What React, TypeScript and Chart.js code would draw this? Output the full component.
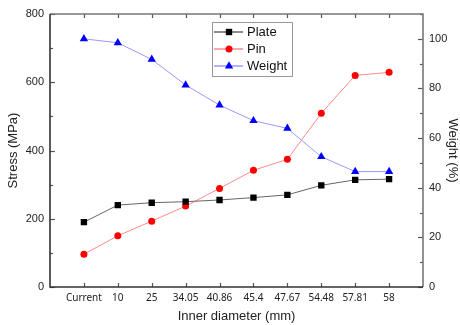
import React, { useEffect, useRef } from 'react';
import { Chart, registerables } from 'chart.js';

Chart.register(...registerables);

const categories = ['Current', '10', '25', '34.05', '40.86', '45.4', '47.67', '54.48', '57.81', '58'];
const plateStress = [190, 240, 247, 250, 255, 262, 270, 298, 314, 316];
const pinStress = [96, 150, 193, 237, 289, 342, 374, 509, 620, 629];
const weightPct = [100, 98.4, 91.7, 81.4, 73.3, 67, 63.9, 52.5, 46.5, 46.5];

const stressRange = [0, 800];
const stressStep = [200, 100];
const weightRange = [0, 110];
const weightStep = [20, 10];

const W = 460;
const H = 325;

const pad = (arr: (number | string)[], fill: any) => [fill, ...arr, fill];

function drawMarker(ctx: CanvasRenderingContext2D, style: string, x: number, y: number, r: number, color: string) {
  ctx.save();
  ctx.fillStyle = color;
  ctx.beginPath();
  if (style === 'rect') {
    const s = r / Math.SQRT2;
    ctx.rect(x - s, y - s, 2 * s, 2 * s);
  } else if (style === 'circle') {
    ctx.arc(x, y, r, 0, Math.PI * 2);
  } else {
    const a = Math.PI / 2;
    ctx.moveTo(x + Math.sin(0) * r, y - Math.cos(0) * r);
    ctx.lineTo(x + Math.sin(2 * Math.PI / 3) * r, y - Math.cos(2 * Math.PI / 3) * r);
    ctx.lineTo(x + Math.sin(4 * Math.PI / 3) * r, y - Math.cos(4 * Math.PI / 3) * r);
    void a;
  }
  ctx.closePath();
  ctx.fill();
  ctx.restore();
}

const framePlugin = {
  id: 'framePlugin',
  afterDatasetsDraw(chart: any) {
    const { ctx, chartArea } = chart;
    const { left, right, top, bottom } = chartArea;
    const yL = chart.scales.y;
    const yR = chart.scales.y1;
    const x = chart.scales.x;
    ctx.save();
    ctx.lineCap = 'butt';
    // ticks
    ctx.strokeStyle = '#555';
    ctx.lineWidth = 1.2;
    for (let v = stressRange[0]; v <= stressRange[1]; v += stressStep[1]) {
      const py = Math.round(yL.getPixelForValue(v)) + 0.5;
      const len = v % stressStep[0] === 0 ? 5 : 3;
      ctx.beginPath();
      ctx.moveTo(left, py);
      ctx.lineTo(left + len, py);
      ctx.stroke();
    }
    for (let v = weightRange[0]; v <= weightRange[1]; v += weightStep[1]) {
      const py = Math.round(yR.getPixelForValue(v)) + 0.5;
      const len = v % weightStep[0] === 0 ? 5 : 3;
      ctx.beginPath();
      ctx.moveTo(right, py);
      ctx.lineTo(right - len, py);
      ctx.stroke();
    }
    for (let i = 1; i <= categories.length; i++) {
      const px = Math.round(x.getPixelForValue(i)) + 0.5;
      ctx.beginPath();
      ctx.moveTo(px, bottom);
      ctx.lineTo(px, bottom - 4);
      ctx.moveTo(px, top);
      ctx.lineTo(px, top + 4);
      ctx.stroke();
    }
    // frame
    ctx.lineWidth = 1.6;
    ctx.strokeStyle = '#777';
    ctx.beginPath();
    ctx.moveTo(left, top);
    ctx.lineTo(right, top);
    ctx.lineTo(right, bottom);
    ctx.stroke();
    ctx.strokeStyle = '#333';
    ctx.beginPath();
    ctx.moveTo(left, top);
    ctx.lineTo(left, bottom);
    ctx.lineTo(right, bottom);
    ctx.stroke();

    // legend
    const bx = 212, by = 22, bw = 80, bh = 54;
    ctx.fillStyle = '#fff';
    ctx.fillRect(bx, by, bw, bh);
    ctx.strokeStyle = '#999';
    ctx.lineWidth = 1;
    ctx.strokeRect(bx + 0.5, by + 0.5, bw, bh);
    const items = chart.data.datasets.map((d: any) => ({
      label: d.label,
      line: d.borderColor,
      color: d.pointBackgroundColor,
      style: d.pointStyle,
      r: d.pointRadius,
    }));
    ctx.font = '13px "Liberation Sans", Arial, sans-serif';
    ctx.textBaseline = 'middle';
    ctx.textAlign = 'left';
    items.forEach((it: any, k: number) => {
      const cy = by + 10 + k * 17;
      ctx.strokeStyle = it.line;
      ctx.lineWidth = 1.5;
      ctx.beginPath();
      ctx.moveTo(bx + 2, cy);
      ctx.lineTo(bx + 31, cy);
      ctx.stroke();
      drawMarker(ctx, it.style, bx + 17, cy, it.r, it.color);
      ctx.fillStyle = '#111';
      ctx.fillText(it.label, bx + 35, cy + 0.5);
    });
    ctx.restore();
  },
};

export default function App() {
  const ref = useRef<HTMLCanvasElement | null>(null);
  useEffect(() => {
    document.body.style.margin = '0';
    const canvas = ref.current;
    if (!canvas) return;
    const chart = new Chart(canvas, {
      type: 'line',
      data: {
        labels: pad(categories, '') as string[],
        datasets: [
          {
            label: 'Plate',
            data: pad(plateStress, null) as any,
            yAxisID: 'y',
            borderColor: '#666',
            borderWidth: 1,
            pointStyle: 'rect',
            pointRadius: 4.5,
            pointBackgroundColor: '#000',
            pointBorderColor: '#000',
            pointBorderWidth: 0,
            tension: 0,
          },
          {
            label: 'Pin',
            data: pad(pinStress, null) as any,
            yAxisID: 'y',
            borderColor: '#ff8a8a',
            borderWidth: 1,
            pointStyle: 'circle',
            pointRadius: 3.5,
            pointBackgroundColor: '#ff0000',
            pointBorderColor: '#ff0000',
            pointBorderWidth: 0,
            tension: 0,
          },
          {
            label: 'Weight',
            data: pad(weightPct, null) as any,
            yAxisID: 'y1',
            borderColor: '#9a9aff',
            borderWidth: 1,
            pointStyle: 'triangle',
            pointRadius: 4.8,
            pointBackgroundColor: '#0000ff',
            pointBorderColor: '#0000ff',
            pointBorderWidth: 0,
            tension: 0,
          },
        ],
      },
      options: {
        responsive: false,
        animation: false,
        layout: { padding: { top: 14, left: 0, right: 0, bottom: 0 } },
        plugins: { legend: { display: false }, tooltip: { enabled: false } },
        scales: {
          x: {
            type: 'category',
            offset: false,
            grid: { display: false, drawTicks: false },
            border: { display: false },
            ticks: {
              autoSkip: false,
              maxRotation: 0,
              padding: 5,
              color: '#222',
              font: { family: '"Noto Sans", sans-serif', size: 10 },
            },
            title: {
              display: true,
              text: 'Inner diameter (mm)',
              color: '#222',
              font: { family: '"Liberation Sans", Arial, sans-serif', size: 13 },
              padding: { top: 0, bottom: 1 },
            },
            afterFit: (s: any) => { s.height = 38; },
          },
          y: {
            type: 'linear',
            position: 'left',
            min: stressRange[0],
            max: stressRange[1],
            grid: { display: false, drawTicks: false },
            border: { display: false },
            ticks: {
              stepSize: stressStep[0],
              padding: 6,
              color: '#222',
              font: { family: '"Liberation Sans", Arial, sans-serif', size: 11 },
            },
            title: {
              display: true,
              text: 'Stress (MPa)',
              color: '#222',
              font: { family: '"Liberation Sans", Arial, sans-serif', size: 13 },
              padding: { top: 6, bottom: 0 },
            },
            afterFit: (s: any) => { s.width = 50; },
          },
          y1: {
            type: 'linear',
            position: 'right',
            min: weightRange[0],
            max: weightRange[1],
            grid: { display: false, drawTicks: false },
            border: { display: false },
            ticks: {
              stepSize: weightStep[0],
              padding: 6,
              color: '#222',
              font: { family: '"Liberation Sans", Arial, sans-serif', size: 11 },
              callback: (v: any) => (Number(v) % weightStep[0] === 0 ? String(v) : ''),
            },
            title: {
              display: true,
              text: 'Weight (%)',
              color: '#222',
              font: { family: '"Liberation Sans", Arial, sans-serif', size: 13 },
              padding: { top: 0, bottom: 0 },
            },
            afterFit: (s: any) => { s.width = 37; },
          },
        },
      },
      plugins: [framePlugin],
    });
    return () => chart.destroy();
  }, []);
  return <canvas ref={ref} width={W} height={H} style={{ display: 'block', width: W, height: H }} />;
}
